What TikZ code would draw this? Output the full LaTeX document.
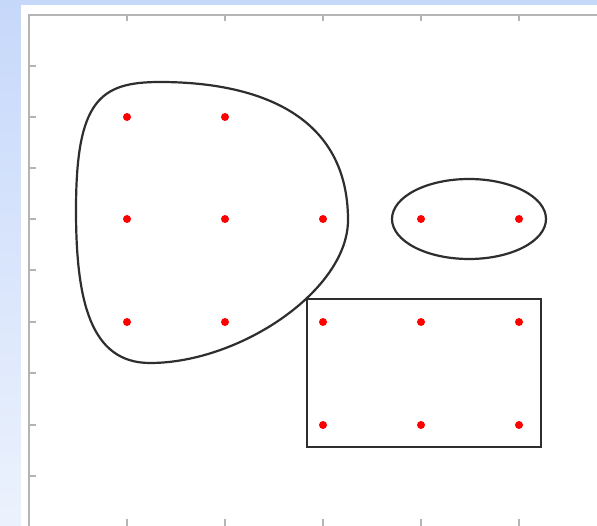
\documentclass[tikz,border=0pt]{standalone}
\usepackage{tikz}
\definecolor{bgtop}{RGB}{198,216,250}
\definecolor{bgbot}{RGB}{236,242,253}
\definecolor{framegray}{RGB}{180,180,180}
\definecolor{dotred}{RGB}{255,0,0}
\begin{document}
\begin{tikzpicture}[
x=1pt,y=-1pt,
frame/.style={draw=framegray,line width=2.5pt},
tick/.style={draw=framegray,line width=1.2pt},
outline/.style={draw=black!82,line width=2.2pt},
dot/.style={circle,fill=dotred,inner sep=0pt,minimum size=8pt}
]

% =======================
% BACKGROUND AND FRAME
% =======================

\useasboundingbox (0,0) rectangle (597,526);
\fill[top color=bgtop,bottom color=bgbot] (0,0) rectangle (21,526);
\fill[bgtop] (21,0) rectangle (597,5);
\fill[white] (21,5) rectangle (597,526);

\coordinate (corner) at (29,15);
\coordinate (topend) at (597,15);
\coordinate (leftend) at (29,526);
\draw[frame] (leftend) -- (corner) -- (topend);

% =======================
% TICKS
% =======================

\foreach \ty in {66,117,168,219,270,322,373,425,476}
  \draw[tick] (29,\ty) -- (36,\ty);
\foreach \tx in {127,225,323,421,519} {
  \draw[tick] (\tx,16) -- (\tx,21);
  \draw[tick] (\tx,519) -- (\tx,526);
}

% =======================
% SHAPES
% =======================

\coordinate (btop) at (160,82);
\coordinate (bright) at (348,220);
\coordinate (bbottom) at (150,363);
\coordinate (bleft) at (76,210);
\draw[outline] (btop) .. controls (250,82) and (348,110) .. (bright)
  .. controls (348,290) and (240,363) .. (bbottom)
  .. controls (90,363) and (76,300) .. (bleft)
  .. controls (76,100) and (100,82) .. (btop) -- cycle;

\draw[outline] (469,219) ellipse [x radius=77,y radius=40];

\draw[outline] (307,299) rectangle (541,447);

% =======================
% POINTS
% =======================

\node[dot] (p11) at (127,117) {};
\node[dot] (p12) at (225,117) {};
\node[dot] (p21) at (127,219) {};
\node[dot] (p22) at (225,219) {};
\node[dot] (p23) at (323,219) {};
\node[dot] (p24) at (421,219) {};
\node[dot] (p25) at (519,219) {};
\node[dot] (p31) at (127,322) {};
\node[dot] (p32) at (225,322) {};
\node[dot] (p33) at (323,322) {};
\node[dot] (p34) at (421,322) {};
\node[dot] (p35) at (519,322) {};
\node[dot] (p43) at (323,425) {};
\node[dot] (p44) at (421,425) {};
\node[dot] (p45) at (519,425) {};

\end{tikzpicture}
\end{document}
